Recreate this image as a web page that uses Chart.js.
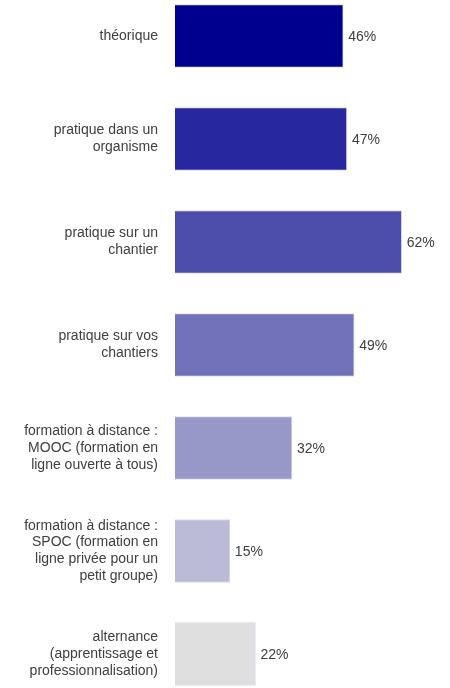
<!DOCTYPE html>
<html>
<head>
<meta charset="utf-8">
<script src="https://cdn.jsdelivr.net/npm/chart.js@4/dist/chart.umd.min.js"></script>
<style>
  body { margin: 0; background: #fff; }
  #wrap { width: 450px; height: 688px; }
</style>
</head>
<body>
<div id="wrap"><canvas id="chart"></canvas></div>
<script>
var categories = [
  ['théorique'],
  ['pratique dans un', 'organisme'],
  ['pratique sur un', 'chantier'],
  ['pratique sur vos', 'chantiers'],
  ['formation à distance :', 'MOOC (formation en', 'ligne ouverte à tous)'],
  ['formation à distance :', 'SPOC (formation en', 'ligne privée pour un', 'petit groupe)'],
  ['alternance', '(apprentissage et', 'professionnalisation)']
];
var values = [46, 47, 62, 49, 32, 15, 22];
var colors = ['#00008f', '#2727a0', '#4c4cab', '#7272ba', '#9797c8', '#bbbbd7', '#dedede'];

// draws the "46%" labels at the end of each bar
var valueLabels = {
  id: 'valueLabels',
  afterDatasetsDraw: function(chart) {
    var ctx = chart.ctx;
    var meta = chart.getDatasetMeta(0);
    ctx.save();
    ctx.font = '14px "Liberation Sans", Arial, sans-serif';
    ctx.fillStyle = '#404040';
    ctx.textAlign = 'left';
    ctx.textBaseline = 'middle';
    meta.data.forEach(function(bar, i) {
      ctx.fillText(values[i] + '%', bar.x + 5, bar.y + 1);
    });
    ctx.restore();
  }
};

var ctx = document.getElementById('chart');
var barChart = new Chart(ctx, {
  type: 'bar',
  data: {
    labels: categories,
    datasets: [{
      data: values,
      backgroundColor: colors,
      borderColor: 'rgba(215,215,235,0.9)',
      borderWidth: 1,
      barThickness: 63,
      clip: false
    }]
  },
  options: {
    indexAxis: 'y',
    responsive: true,
    maintainAspectRatio: false,
    animation: false,
    layout: { padding: { top: 36, bottom: 34, left: 0, right: 19 } },
    plugins: {
      legend: { display: false },
      tooltip: { enabled: false }
    },
    scales: {
      x: { display: false, min: 0, max: 70 },
      y: {
        offset: false,
        grid: { display: false, drawTicks: false },
        border: { display: false },
        afterFit: function(scale) {
          scale.width = 175;
          scale.paddingTop = 0;
          scale.paddingBottom = 0;
        },
        ticks: {
          padding: 17,
          color: '#404040',
          font: { family: '"Liberation Sans", Arial, sans-serif', size: 14, lineHeight: 1.2 }
        }
      }
    }
  },
  plugins: [valueLabels]
});
</script>
</body>
</html>
